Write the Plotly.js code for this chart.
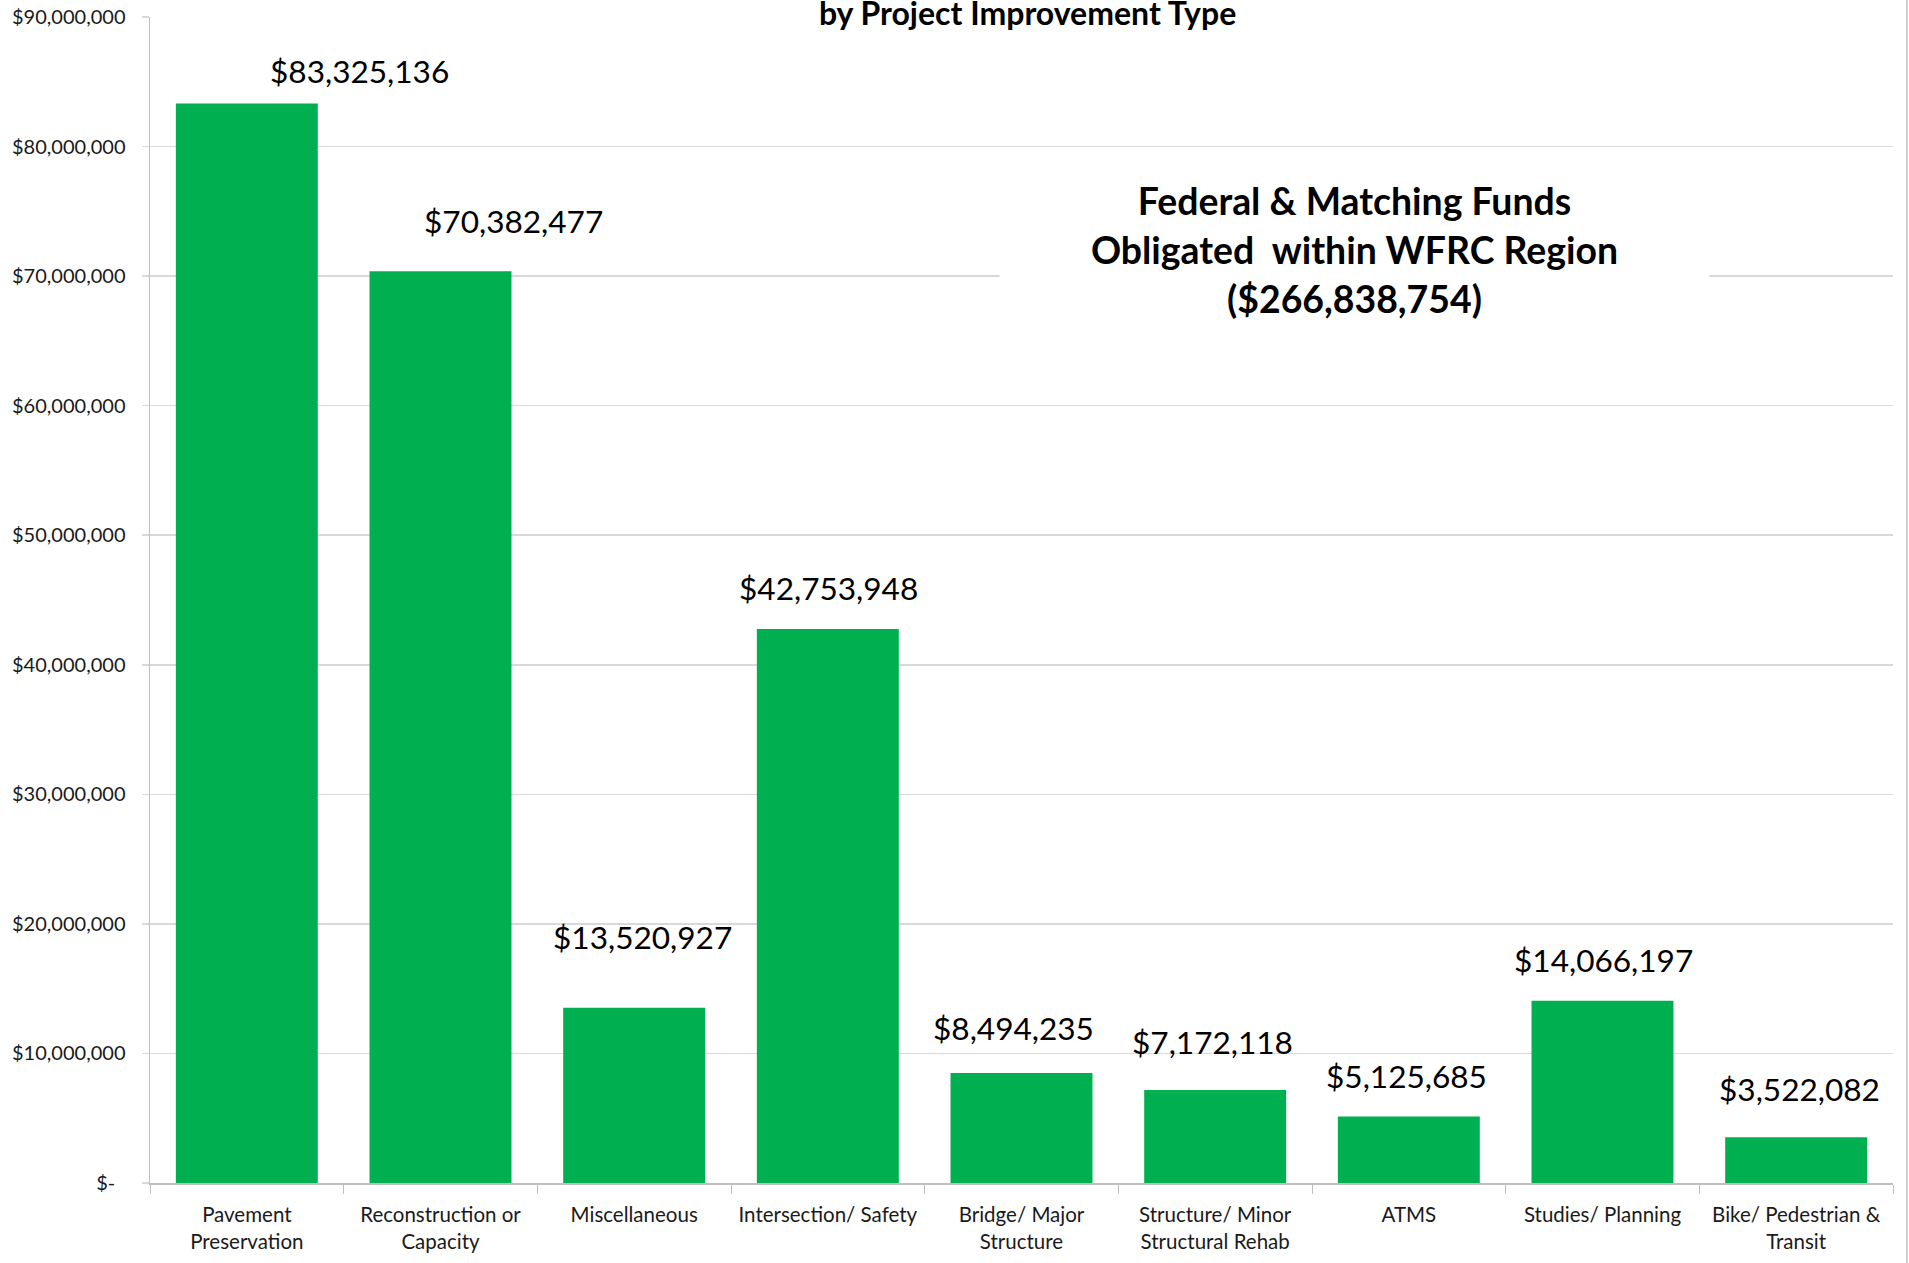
<!DOCTYPE html>
<html><head><meta charset="utf-8">
<script src="https://cdn.plot.ly/plotly-3.0.1.min.js"></script>
<style>html,body{margin:0;padding:0;background:#fff;overflow:hidden}</style>
</head><body><div id="chart" style="width:1909px;height:1263px"></div>
<script>
const categories = ["Pavement<br>Preservation", "Reconstruction or<br>Capacity", "Miscellaneous", "Intersection/ Safety", "Bridge/ Major<br>Structure", "Structure/ Minor<br>Structural Rehab", "ATMS", "Studies/ Planning", "Bike/ Pedestrian &<br>Transit"];
const funds = [83325136, 70382477, 13520927, 42753948, 8494235, 7172118, 5125685, 14066197, 3522082];
const yTickValues = [0, 10000000, 20000000, 30000000, 40000000, 50000000, 60000000, 70000000, 80000000, 90000000];
const yTickLabels = ["$-&nbsp;&nbsp;", "$10,000,000", "$20,000,000", "$30,000,000", "$40,000,000", "$50,000,000", "$60,000,000", "$70,000,000", "$80,000,000", "$90,000,000"];
const chartTitle = "by Project Improvement Type";
const noteLines = ["Federal &amp; Matching Funds", "Obligated&nbsp; within WFRC Region", "($266,838,754)"];

// label offsets (pixels) as placed in the original chart
const labelXShift = [113, 73, 8, 1, -8, -3, -2, 1, 3];
const labelYShift = [11, 29, 50, 20, 24, 27, 20, 20, 27];

const FONT = "Lato, 'Open Sans', sans-serif";
const fmt = v => "$" + v.toLocaleString("en-US");

const trace = {
  type: "bar",
  x: categories,
  y: funds,
  marker: {color: "#00B050", line: {width: 0}},
  hoverinfo: "x+y"
};

const annotations = funds.map((v, i) => ({
  x: categories[i], y: v, xref: "x", yref: "y",
  text: fmt(v), showarrow: false,
  xanchor: "center", yanchor: "bottom",
  xshift: labelXShift[i], yshift: labelYShift[i],
  font: {family: FONT, size: 31.6, color: "#000"}
}));

annotations.push({
  xref: "paper", yref: "paper", x: 0.691, y: 0.8005,
  xanchor: "center", yanchor: "middle",
  text: noteLines.join("<br>"), showarrow: false,
  bgcolor: "#ffffff", width: 707, height: 175,
  font: {family: FONT, size: 37.4, color: "#000", weight: "bold"}
});

const layout = {
  width: 1909, height: 1263,
  margin: {l: 150, r: 16, t: 17, b: 80, pad: 0},
  paper_bgcolor: "#fff", plot_bgcolor: "#fff",
  showlegend: false,
  bargap: 0.267,
  title: {
    text: "<b>" + chartTitle + "</b>",
    x: 0.5035, xref: "paper", xanchor: "center",
    y: 1, yref: "container", yanchor: "top", pad: {t: 3},
    font: {family: FONT, size: 32, color: "#000"}
  },
  xaxis: {
    type: "category",
    showline: true, linecolor: "#bfbfbf", linewidth: 1.5,
    ticks: "outside", tickson: "boundaries", ticklen: 9, tickcolor: "#bfbfbf", tickwidth: 1,
    showgrid: false, zeroline: false,
    ticklabelstandoff: 13,
    tickfont: {family: FONT, size: 20.5, color: "#1a1a1a"},
    fixedrange: true
  },
  yaxis: {
    range: [0, 90000000],
    tickvals: yTickValues, ticktext: yTickLabels,
    showline: true, linecolor: "#bfbfbf", linewidth: 1.5,
    ticks: "outside", ticklen: 7, tickcolor: "#d9d9d9", tickwidth: 1.5,
    showgrid: true, gridcolor: "#d9d9d9", gridwidth: 1.5,
    zeroline: false,
    ticklabelstandoff: 12,
    tickfont: {family: FONT, size: 20, color: "#1a1a1a"},
    fixedrange: true
  },
  shapes: [
    {type: "rect", xref: "paper", yref: "paper", x0: 0.322, x1: 0.686, y0: 0.985, y1: 1.03,
     fillcolor: "#ffffff", line: {width: 0}, layer: "above"},
    {type: "line", xref: "paper", yref: "paper", x0: 1.008, x1: 1.008, y0: -0.1, y1: 1.05,
     line: {color: "#bfbfbf", width: 1.5}}
  ],
  annotations: annotations
};

Plotly.newPlot("chart", [trace], layout, {displayModeBar: false, staticPlot: true});
</script>
</body></html>
